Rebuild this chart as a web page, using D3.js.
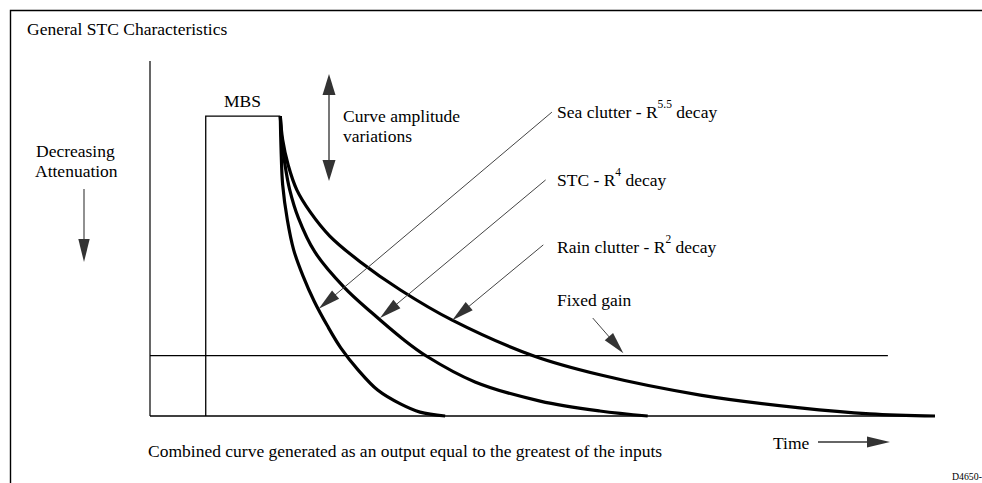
<!DOCTYPE html>
<html>
<head>
<meta charset="utf-8">
<script src="https://cdn.jsdelivr.net/npm/d3@7"></script>
<style>
  html, body { margin: 0; padding: 0; background: #fff; }
  svg { display: block; font-family: "Liberation Serif", "Times New Roman", Times, serif; }
</style>
</head>
<body>
<div id="chart"></div>
<script>
// 曲線データ（時間 0-100, レベル 0-100 の単位で読み取り）
var seaX  = [16.6, 16.7, 16.9, 17.5, 18.3, 19.5, 20.9, 22.6, 24.3, 26.5, 29.0, 31.9, 34.4, 37.6];
var seaY  = [84.5, 74.9, 65.1, 55.2, 46.8, 39.4, 32.4, 25.4, 19.2, 13.0, 7.3, 3.4, 1.1, 0];
var stcX  = [16.6, 16.8, 17.2, 17.8, 18.9, 21.0, 24.8, 28.3, 32.2, 35.2, 41.4, 49.7, 57.3, 63.4];
var stcY  = [84.5, 77.7, 70.7, 63.7, 55.8, 46.2, 36.1, 29.0, 21.7, 16.9, 9.6, 4.2, 1.4, 0];
var rainX = [16.6, 16.9, 17.6, 18.7, 20.4, 22.9, 26.8, 31.9, 38.5, 48.9, 57.3, 70.1, 82.8, 91.7, 100];
var rainY = [84.5, 77.8, 70.7, 63.7, 57.5, 50.7, 43.4, 35.5, 27.0, 16.9, 11.6, 5.9, 2.3, 0.6, 0];

// MBS区間と固定ゲイン
var mbsStart = 7.1;
var mbsEnd = 16.6;
var mbsLevel = 84.5;
var fixedGain = 17;
var fixedGainEnd = 94;

// ラベル（矢印の始点と先端）
var curveLabels = [
  {pre: 'Sea clutter - R', sup: '5.5', post: ' decay', from: [51.2, 85.6], to: [21.5, 30.2]},
  {pre: 'STC - R', sup: '4', post: ' decay', from: [50.4, 66.5], to: [29.3, 27.6]},
  {pre: 'Rain clutter - R', sup: '2', post: ' decay', from: [50.1, 48.2], to: [38.5, 27.0]},
  {pre: 'Fixed gain', sup: '', post: '', from: [56.4, 27.6], to: [60.3, 17.7]}
];
var labelY = [118, 186, 253, 306];

var width = 982;
var height = 483;
var fontSize = 17.5;

// 描画領域
var x = d3.scaleLinear().domain([0, 100]).range([150, 935]);
var y = d3.scaleLinear().domain([0, 100]).range([416, 61]);

var svg = d3.select('#chart').append('svg')
  .attr('width', width).attr('height', height);

var ink = '#000';
var arrowInk = '#333';

// 三角形の矢じり
function arrowHead(g, x1, y1, x2, y2, len, half, color) {
  var dx = x2 - x1, dy = y2 - y1;
  var l = Math.sqrt(dx * dx + dy * dy);
  var ux = dx / l, uy = dy / l;
  var bx = x2 - ux * len, by = y2 - uy * len;
  var pts = [[x2, y2], [bx - uy * half, by + ux * half], [bx + uy * half, by - ux * half]];
  g.append('polygon')
    .attr('points', pts.map(function(p) { return p.join(','); }).join(' '))
    .attr('fill', color);
}

function arrow(g, x1, y1, x2, y2, opt) {
  var dx = x2 - x1, dy = y2 - y1;
  var l = Math.sqrt(dx * dx + dy * dy);
  g.append('line')
    .attr('x1', x1).attr('y1', y1)
    .attr('x2', x2 - dx / l * (opt.len - 2)).attr('y2', y2 - dy / l * (opt.len - 2))
    .attr('stroke', opt.stroke).attr('stroke-width', opt.width);
  arrowHead(g, x1, y1, x2, y2, opt.len, opt.half, arrowInk);
}

function label(tx, ty, s) {
  return svg.append('text')
    .attr('x', tx).attr('y', ty)
    .attr('font-size', fontSize)
    .attr('fill', ink)
    .text(s);
}

// 外枠
svg.append('path')
  .attr('d', 'M10.5,483 V10.5 H982')
  .attr('fill', 'none').attr('stroke', ink).attr('stroke-width', 1.4);

// タイトル
label(27, 35, 'General STC Characteristics');

// 軸
svg.append('line')
  .attr('x1', x(0)).attr('x2', x(0)).attr('y1', y(100)).attr('y2', y(0))
  .attr('stroke', ink).attr('stroke-width', 1.2);
svg.append('line')
  .attr('x1', x(0)).attr('x2', x(100)).attr('y1', y(0)).attr('y2', y(0))
  .attr('stroke', ink).attr('stroke-width', 1.5);

// 固定ゲイン
svg.append('line')
  .attr('x1', x(0)).attr('x2', x(fixedGainEnd)).attr('y1', y(fixedGain)).attr('y2', y(fixedGain))
  .attr('stroke', ink).attr('stroke-width', 1.2);

// MBS
svg.append('path')
  .attr('d', 'M' + x(mbsStart) + ',' + y(0) + ' V' + y(mbsLevel) + ' H' + x(mbsEnd))
  .attr('fill', 'none').attr('stroke', ink).attr('stroke-width', 1.3);
label(224, 107, 'MBS');

// 減衰曲線
var line = d3.line()
  .x(function(d) { return x(d[0]); })
  .y(function(d) { return y(d[1]); })
  .curve(d3.curveCatmullRom.alpha(0.5));

[[seaX, seaY], [stcX, stcY], [rainX, rainY]].forEach(function(s) {
  svg.append('path')
    .datum(d3.zip(s[0], s[1]))
    .attr('d', line)
    .attr('fill', 'none')
    .attr('stroke', ink)
    .attr('stroke-width', 3.2)
    .attr('stroke-linecap', 'butt');
});

// 注釈
var annG = svg.append('g');
curveLabels.forEach(function(d, i) {
  arrow(annG, x(d.from[0]), y(d.from[1]), x(d.to[0]), y(d.to[1]),
    {stroke: '#444', width: 1, len: 22, half: 5.5});

  var t = label(557, labelY[i], '');
  t.append('tspan').text(d.pre);
  if (d.sup) {
    t.append('tspan').attr('font-size', 11.5).attr('dy', -10).text(d.sup);
    t.append('tspan').attr('dy', 10).text(d.post);
  }
});

// 振幅変動の両矢印
arrow(annG, 329, 128, 329, 74, {stroke: '#777', width: 2, len: 21, half: 6.5});
arrow(annG, 329, 128, 329, 181, {stroke: '#777', width: 2, len: 21, half: 6.5});
label(343, 122, 'Curve amplitude');
label(343, 142, 'variations');

// 減衰方向
label(36, 157, 'Decreasing');
label(35, 177, 'Attenuation');
arrow(annG, 84, 189, 84, 262, {stroke: '#555', width: 1.3, len: 23, half: 5.7});

// 下部テキスト
label(148, 457, 'Combined curve generated as an output equal to the greatest of the inputs');
label(773, 449, 'Time');
arrow(annG, 818, 442, 890, 442, {stroke: '#333', width: 1.3, len: 23, half: 5.5});
svg.append('text').attr('x', 952).attr('y', 480).attr('font-size', 9.8).text('D4650-');
</script>
</body>
</html>
